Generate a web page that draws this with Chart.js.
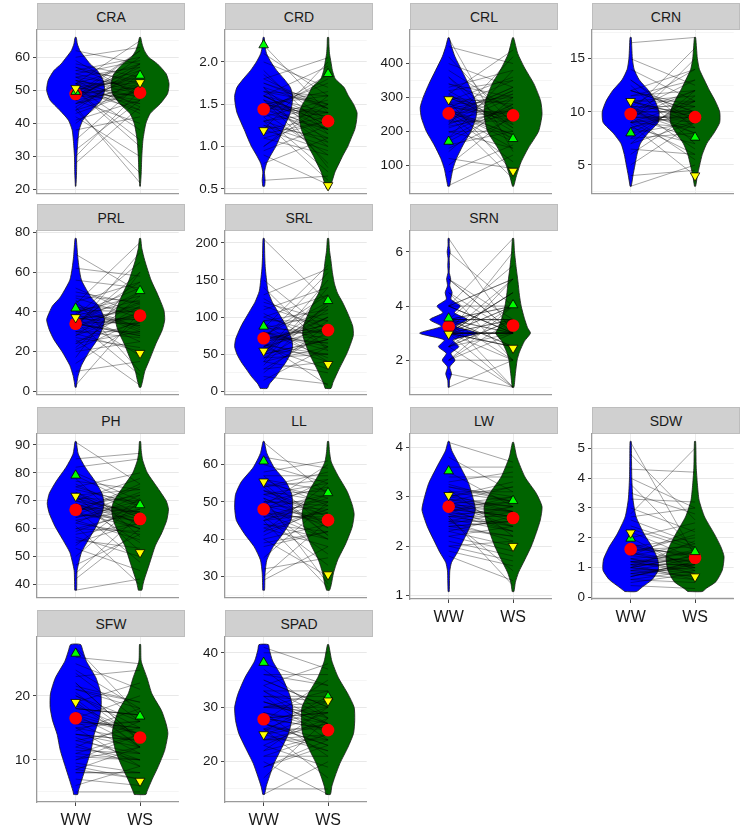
<!DOCTYPE html>
<html>
<head>
<meta charset="utf-8">
<script src="https://cdn.jsdelivr.net/npm/chart.js@4.4.1/dist/chart.umd.min.js"></script>
<style>
  body { margin: 0; background: #fff; }
  #wrap { position: relative; width: 743px; height: 831px; overflow: hidden; font-family: 'Liberation Sans', Arial, sans-serif; }
  .strip { position: absolute; background: #d0d0d0; border: 1px solid #bdbdbd; box-sizing: border-box;
           font-size: 14px; color: #1a1a1a; display: flex; align-items: center; justify-content: center; }
  canvas { position: absolute; }
</style>
</head>
<body>
<div id="wrap"></div>
<script>
const groups = ['WW', 'WS'];

// ---- CRA
const craTicks = ['20', '30', '40', '50', '60'];
const craRange = [18.75, 68.25];
const craWw = [[21,.01],[25,.03],[30,.04],[35,.08],[38,.12],[41,.25],[44,.55],[47,.88],[50,1],[53,.95],[56,.75],[58,.5],[60,.32],[62,.15],[64,.06],[66,.02]];
const craWs = [[21,.01],[25,.04],[30,.06],[35,.1],[40,.2],[43,.35],[46,.7],[49,.95],[52,1],[55,.9],[58,.6],[60,.3],[62,.15],[64,.07],[66,.02]];
const craMean = [48.9, 49.3];
const craUp = [49.6, 54.5];
const craDown = [50.6, 52.4];
const craPairWW = [28,30,32,35,38,40,42,44,45,46,47,48,48,49,50,50,51,52,52,53,54,55,56,57,58,59,60,62,44,47,
                   46,48,49,50,51,52,53,54,47,49,50,51,45,43,41,52,55,57,48,50,53,46,49,51,56,44,50,48,52,54];
const craPairWS = [45,50,47,52,42,55,30,58,22,50,40,53,62,46,56,35,48,52,65,44,57,50,60,49,54,48,63,58,25,51,
                   52,49,55,47,53,58,50,45,60,51,54,38,56,50,47,43,59,52,57,33,49,55,62,46,53,50,44,58,48,51];

// ---- CRD
const crdTicks = ['0.5', '1.0', '1.5', '2.0'];
const crdRange = [0.442, 2.378];
const crdWw = [[0.53,.03],[0.6,.05],[0.7,.03],[0.8,.1],[0.9,.25],[1.0,.42],[1.1,.55],[1.2,.67],[1.3,.8],[1.4,.92],[1.5,.98],[1.6,1],[1.7,.92],[1.8,.7],[1.9,.45],[2.0,.25],[2.1,.1],[2.2,.04],[2.29,.02]];
const crdWs = [[0.5,.05],[0.6,.15],[0.7,.24],[0.8,.38],[0.9,.52],[1.0,.68],[1.1,.8],[1.2,.92],[1.3,.98],[1.4,1],[1.5,.88],[1.6,.7],[1.7,.55],[1.8,.25],[1.9,.15],[2.0,.1],[2.1,.05],[2.2,.03],[2.29,.02]];
const crdMean = [1.44, 1.3];
const crdUp = [2.2, 1.86];
const crdDown = [1.19, 0.54];
const crdPairWW = [0.6,0.8,0.9,1.0,1.1,1.15,1.2,1.25,1.3,1.35,1.4,1.45,1.5,1.5,1.55,1.6,1.6,1.65,1.7,1.75,1.8,1.85,1.9,2.0,2.1,2.2,1.3,1.45,
                   1.2,1.3,1.4,1.5,1.55,1.6,1.65,1.7,1.4,1.5,1.35,1.25,1.45,1.55,1.6,1.7,1.8,1.1,1.0,0.95,1.5,1.6,1.4,1.3,1.65,1.75,1.2,1.45,1.55,1.5];
const crdPairWS = [0.65,1.1,0.55,1.5,0.9,1.3,2.0,1.0,1.4,0.7,1.8,1.2,1.6,1.35,0.8,1.95,1.25,1.5,1.05,1.45,2.05,1.3,1.15,1.7,1.6,1.4,0.6,1.1,
                   1.35,1.5,1.2,1.4,1.0,1.25,1.6,1.45,0.9,1.3,1.55,1.1,1.75,1.35,1.2,0.75,1.45,1.3,1.6,1.25,1.15,1.4,1.85,1.05,1.3,1.5,0.95,1.4,1.2,1.65];

// ---- CRL
const crlTicks = ['100', '200', '300', '400'];
const crlRange = [16, 499];
const crlWw = [[38,.03],[60,.08],[90,.15],[120,.27],[160,.5],[200,.77],[240,.94],[270,.98],[300,.88],[340,.68],[380,.45],[420,.22],[450,.1],[476,.02]];
const crlWs = [[38,.02],[70,.12],[110,.28],[150,.52],[200,.88],[250,1],[290,.95],[340,.72],[390,.38],[430,.16],[476,.02]];
const crlMean = [253, 247];
const crlUp = [170, 178];
const crlDown = [294, 83];
const crlPairWW = [40,80,100,120,140,160,180,200,210,220,230,240,250,255,260,270,280,290,300,310,320,340,360,380,400,420,450,475,245,265,
                   150,180,200,220,240,250,260,270,280,300,320,340,230,255,275,290,310,195,215,235,265,285,305,330,360,170,245,260,225,300];
const crlPairWS = [130,160,250,90,300,200,380,150,270,420,230,320,110,260,190,350,240,80,280,440,210,300,170,260,330,220,400,140,60,310,
                   240,280,200,300,260,330,180,250,290,220,350,270,310,150,230,360,200,280,250,320,190,300,240,380,210,270,330,170,260,230];

// ---- CRN
const crnTicks = ['5', '10', '15'];
const crnRange = [2.3, 17.7];
const crnWw = [[3,.02],[4,.08],[5,.15],[6,.22],[7,.33],[8,.6],[9,.95],[10,.98],[11,.85],[12,.62],[13,.3],[14,.12],[15,.06],[16,.04],[17,.02]];
const crnWs = [[3,.02],[4,.08],[5,.16],[6,.25],[7,.4],[8,.65],[9,.85],[10,.85],[11,.7],[12,.5],[13,.32],[14,.15],[15,.08],[16,.05],[17,.02]];
const crnMean = [9.8, 9.5];
const crnUp = [8.0, 7.6];
const crnDown = [11.0, 4.0];
const crnPairWW = [3,4,5,6,6.5,7,7.5,8,8.5,9,9,9.5,9.5,10,10,10,10.5,10.5,11,11,11.5,12,12,13,14,15,16.5,8.8,
                   8,8.5,9,9,9.5,9.5,10,10,10,10.5,10.5,11,11,11.5,12,12.5,7,7.5,9,10,9.5,10,11,8.5,10,9.5,10.5,12,13,9];
const crnPairWS = [5,4.5,9,10,6,12,8,11,7,10,15,9.5,5.5,13,8.5,16,10,6.5,11.5,9,12,10.5,14,9,11,12.5,17,4,
                   9,10,8.5,11,9.5,7.5,10,12,9,10.5,8,11,9.5,13,10,7,9,11.5,6,10,12,8,9.5,10.5,11,9,14,10,8.5,9.5];

// ---- PRL
const prlTicks = ['0', '20', '40', '60', '80'];
const prlRange = [-1.75, 80.75];
const prlWw = [[2,.02],[5,.05],[8,.09],[13,.2],[20,.47],[26,.75],[31,.91],[36,1],[40,.9],[43,.8],[47,.55],[50,.42],[56,.2],[62,.12],[68,.07],[77,.02]];
const prlWs = [[2,.03],[6,.1],[10,.16],[16,.33],[24,.55],[31,.77],[36,.85],[41,.82],[49,.6],[56,.38],[66,.16],[72,.06],[77,.02]];
const prlMean = [34, 38.1];
const prlUp = [41.8, 50.6];
const prlDown = [37.2, 19.2];
const prlPairWW = [3,10,14,17,20,22,24,26,28,29,30,32,33,34,35,36,37,38,40,42,44,46,48,52,56,62,69,35,
                   25,28,30,32,33,34,35,36,37,38,39,40,41,43,45,47,50,27,31,35,38,42,36,33,30,24,21,44,39,34];
const prlPairWS = [40,15,35,60,25,48,30,3,50,20,38,70,44,28,55,36,18,65,33,42,75,10,45,38,52,58,50,8,
                   35,40,30,45,38,28,50,42,33,36,25,48,40,31,55,37,44,22,39,34,46,30,41,60,27,43,36,32,52,29];

// ---- SRL
const srlTicks = ['0', '50', '100', '150', '200'];
const srlRange = [-4.5, 216];
const srlWw = [[4,.12],[10,.2],[20,.42],[30,.6],[40,.78],[50,.92],[60,1],[70,.97],[80,.87],[90,.75],[100,.6],[110,.45],[120,.3],[135,.15],[150,.1],[165,.06],[180,.04],[206,.02]];
const srlWs = [[4,.1],[12,.17],[30,.38],[52,.66],[75,.87],[88,.85],[105,.68],[120,.5],[132,.33],[145,.22],[160,.15],[176,.1],[190,.05],[206,.02]];
const srlMean = [71.5, 82.5];
const srlUp = [87.5, 122];
const srlDown = [54.5, 36.5];
const srlPairWW = [15,20,25,30,35,40,45,50,55,60,65,70,75,80,85,90,95,100,110,120,130,140,150,205,60,70,80,50,
                   30,40,45,50,55,60,62,65,68,70,72,75,78,80,85,90,95,100,105,115,125,55,65,70,60,50,75,85,45,40];
const srlPairWS = [60,10,90,40,120,25,70,150,50,100,8,85,130,60,170,40,110,75,140,95,165,55,80,120,30,160,45,115,
                   80,60,95,70,110,85,50,100,75,90,65,120,80,55,105,70,95,130,60,85,75,100,40,90,115,70,65,80,50,140];

// ---- SRN
const srnTicks = ['2', '4', '6'];
const srnRange = [0.725, 6.775];
const srnWw = [[1,.02],[1.25,.03],[1.5,.1],[1.75,.04],[2,.22],[2.25,.08],[2.5,.35],[2.75,.15],[3,1],[3.25,.25],[3.5,.65],[3.75,.2],[4,.4],[4.25,.08],[4.5,.12],[4.75,.04],[5,.07],[5.25,.02],[5.5,.03],[5.75,.02],[6,.05],[6.25,.02],[6.5,.02]];
const srnWs = [[1,.03],[1.5,.08],[2,.14],[2.3,.22],[2.7,.39],[3.0,.6],[3.2,.5],[3.55,.39],[4,.28],[4.4,.22],[4.9,.17],[5.4,.11],[6,.05],[6.5,.02]];
const srnMean = [3.25, 3.28];
const srnUp = [3.55, 4.04];
const srnDown = [2.97, 2.45];
const srnPairWW = [1,1.5,2,2,2.5,2.5,3,3,3,3,3,3,3,3.5,3.5,3.5,3.5,4,4,4,4.5,5,5,6,6.5,3,2.5,3.5,
                   3,3,3,3.5,3.5,4,2.5,3,3,3.5,4,2,3,3.5,4.5,3,3,2.5,3.5,4,3,3,5,3.5,2,3,4,3,2.5,3.5];
const srnPairWS = [2,1,3,4,1,5,2.5,3,4.5,6,1,3.5,2,3,4,5.5,2.5,3,6.5,4,2,3,3.5,4,3,5,3.5,1,
                   3,3.5,4,3,2.5,3,3.5,4.5,3,2,5,3.5,3,4,3,2.5,3,4,3.5,3,2.5,4.5,3,3.5,2,3,5,4,3,3.5];

// ---- PH
const phTicks = ['40', '50', '60', '70', '80', '90'];
const phRange = [35.3, 93.9];
const phWw = [[38,.03],[42,.04],[45,.05],[48,.11],[51.5,.2],[56,.44],[61,.72],[65.5,.91],[69,.98],[72.6,.91],[77,.67],[82,.33],[86.7,.09],[91.2,.02]];
const phWs = [[38,.06],[40,.1],[42,.15],[47,.31],[54,.53],[58.5,.75],[63,.92],[67,.98],[70,.9],[75,.58],[80,.25],[84.5,.09],[88,.04],[91.2,.02]];
const phMean = [66.8, 63.5];
const phUp = [79.1, 68.5];
const phDown = [71.7, 51.5];
const phPairWW = [38,42,44,47,50,53,55,57,59,61,62,63,64,65,66,67,68,69,70,71,72,73,75,77,79,82,85,91,
                  58,60,62,64,65,66,67,68,69,70,71,72,73,74,76,78,80,63,66,69,72,60,56,54,67,70,65,75,68,71];
const phPairWS = [42,60,65,58,70,45,62,50,67,40,72,56,68,63,75,48,66,60,78,70,52,64,80,74,68,85,87,76,
                  62,66,58,70,64,60,68,72,55,66,63,74,61,69,65,57,70,67,76,62,64,59,53,71,66,62,73,68,60,65];

// ---- LL
const llTicks = ['30', '40', '50', '60'];
const llRange = [24.3, 68.2];
const llWw = [[26.3,.03],[29,.04],[31,.05],[34.4,.11],[38,.33],[41.4,.66],[45,.94],[48.4,1],[52,.97],[55.4,.77],[59,.38],[61.5,.2],[63.3,.1],[66.2,.02]];
const llWs = [[26.3,.05],[27.8,.11],[31,.19],[34.4,.33],[38.8,.61],[43.2,.83],[46.7,.9],[49.3,.83],[52.8,.66],[57.2,.33],[60.7,.11],[63.5,.05],[66.2,.02]];
const llMean = [48, 45.1];
const llUp = [60.9, 52.4];
const llDown = [55.4, 30.5];
const llPairWW = [29,30,32,35,38,40,42,43,44,45,46,47,48,48,49,50,51,52,53,54,55,56,57,58,60,62,66,45,
                  40,42,44,45,46,47,48,49,50,51,52,53,54,55,56,43,47,49,51,53,45,48,50,52,41,57,46,49,54,39];
const llPairWS = [38,45,35,50,42,30,55,48,40,52,33,47,56,44,60,50,28,53,46,58,41,49,57,61,55,59,52,27,
                  44,48,42,50,46,40,52,45,49,43,55,47,41,51,53,38,45,48,44,50,47,36,54,46,49,43,51,40,56,42];

// ---- LW
const lwTicks = ['1', '2', '3', '4'];
const lwRange = [0.93, 4.27];
const lwWw = [[1.08,.02],[1.3,.03],[1.5,.04],[1.67,.1],[1.87,.3],[2.13,.52],[2.4,.74],[2.73,.92],[2.93,.86],[3.27,.69],[3.6,.41],[3.93,.11],[4.12,.02]];
const lwWs = [[1.08,.03],[1.27,.08],[1.47,.19],[1.73,.41],[2.0,.63],[2.27,.8],[2.53,.94],[2.8,1],[3.07,.8],[3.4,.41],[3.8,.13],[4.1,.02]];
const lwMean = [2.8, 2.57];
const lwUp = [3.52, 2.92];
const lwDown = [3.03, 2.0];
const lwPairWW = [1.8,1.9,2.0,2.1,2.2,2.3,2.4,2.45,2.5,2.55,2.6,2.65,2.7,2.75,2.8,2.85,2.9,2.95,3.0,3.1,3.2,3.3,3.4,3.5,3.6,3.8,4.1,2.6,
                  2.3,2.4,2.5,2.6,2.65,2.7,2.75,2.8,2.85,2.9,3.0,3.05,3.1,3.15,3.2,2.5,2.6,2.7,2.8,2.9,3.0,2.2,2.4,2.55,2.75,2.95,3.25,2.0,2.35,2.85];
const lwPairWS = [1.3,1.6,2.1,1.8,2.4,2.0,2.2,2.7,2.5,1.5,2.8,2.3,3.0,2.6,2.9,2.4,3.2,2.7,3.3,2.9,3.0,3.5,3.4,2.8,3.6,3.1,3.7,1.2,
                  2.6,2.5,2.8,2.4,2.7,2.9,2.3,2.6,3.0,2.5,2.8,2.7,3.1,2.2,2.9,2.1,2.6,2.4,2.7,2.8,3.2,1.9,2.5,2.3,2.6,2.8,2.9,1.7,2.2,2.7];

// ---- SDW
const sdwTicks = ['0', '1', '2', '3', '4', '5'];
const sdwRange = [-0.05, 5.48];
const sdwWw = [[0.2,.2],[0.35,.4],[0.6,.74],[0.9,.95],[1.1,.96],[1.3,.93],[1.7,.74],[2.1,.48],[2.7,.19],[3.3,.08],[4,.04],[4.6,.03],[5.23,.02]];
const sdwWs = [[0.2,.25],[0.31,.39],[0.53,.72],[0.92,.94],[1.37,1],[1.7,.89],[2.14,.66],[2.7,.33],[3.26,.14],[3.81,.08],[4.37,.04],[5.23,.02]];
const sdwMean = [1.62, 1.33];
const sdwUp = [1.98, 1.53];
const sdwDown = [2.17, 0.7];
const sdwPairWW = [0.4,0.5,0.6,0.7,0.8,0.9,1.0,1.0,1.1,1.1,1.2,1.2,1.3,1.4,1.5,1.6,1.7,1.8,2.0,2.2,2.4,2.7,3.0,3.3,3.8,4.3,5.2,2.8,
                   0.6,0.7,0.8,0.9,1.0,1.1,1.2,1.3,1.4,1.5,1.6,1.8,2.0,2.3,0.8,1.0,1.2,1.1,0.9,1.3,1.5,1.7,1.0,0.7,1.2,1.4,2.6,3.5,4.0,4.8];
const sdwPairWS = [0.3,0.8,0.5,1.2,0.6,1.0,1.4,0.7,1.1,1.6,0.9,1.3,0.8,1.8,1.2,1.5,2.0,1.0,2.5,1.3,1.7,3.0,2.2,3.2,1.6,4.2,1.4,5.0,
                   0.9,1.2,1.0,0.7,1.4,1.1,0.8,1.5,1.2,1.0,1.7,1.3,0.9,1.6,1.1,1.9,1.2,0.6,1.3,1.0,2.1,1.4,0.8,1.1,1.5,2.3,1.8,2.8,3.0,2.6];

// ---- SFW
const sfwTicks = ['10', '20'];
const sfwRange = [3.43, 29.17];
const sfwWw = [[4.6,.07],[5.1,.09],[7,.22],[9,.36],[11.5,.53],[14,.64],[16.2,.8],[18.2,.88],[20.3,.87],[22.8,.7],[25.4,.37],[27,.25],[28,.17]];
const sfwWs = [[4.6,.2],[5.1,.24],[6.9,.41],[9,.63],[11.5,.85],[14.1,.96],[15.6,.9],[17.7,.74],[20.3,.41],[22.8,.24],[25.4,.04],[28,.02]];
const sfwMean = [16.5, 13.5];
const sfwUp = [26.6, 16.8];
const sfwDown = [19.0, 6.7];
const sfwPairWW = [5,6,7,8,8.5,9,10,11,12,13,14,14.5,15,16,16.5,17,18,18.5,19,20,21,22,23,24,25,26,27.5,8,
                   10,11,12,13,14,15,16,17,18,19,20,21,22,12.5,15.5,17.5,19.5,13.5,16,18,20.5,9.5,11.5,14,16.5,21.5,23.5,8.5,10.5,15];
const sfwPairWS = [5,9,6,8,12,7,14,10,16,11,13,18,9,15,20,12,17,14,22,16,19,13,24,18,21,25,17,8,
                   12,14,10,15,13,16,11,14,17,12,15,18,13,9,16,14,12,10,15,17,13,8,11,12,14,19,16,7,10,13];

// ---- SPAD
const spadTicks = ['20', '30', '40'];
const spadRange = [12.6, 42.9];
const spadWw = [[14,.03],[15.5,.09],[17.3,.2],[19.7,.36],[22.7,.64],[25.2,.86],[27.6,.97],[30,1],[32.4,.89],[35.5,.64],[38.5,.31],[40.5,.2],[41.5,.16]];
const spadWs = [[14,.08],[15.5,.13],[17.3,.24],[19.7,.41],[22.7,.69],[25.2,.88],[27.6,.92],[30,.9],[32.4,.69],[35.5,.35],[38.5,.13],[41.5,.02]];
const spadMean = [27.8, 25.8];
const spadUp = [38.2, 31.9];
const spadDown = [25.0, 31.2];
const spadPairWW = [14,15,17,19,20,21,22,23,24,25,25.5,26,27,27.5,28,29,30,31,32,33,34,35,36,37,38,40,41,26,
                    22,23,24,25,26,27,28,29,30,31,32,33,34,35,26,28,30,32,24,27,29,31,21,19,36,25,28,30,33,27];
const spadPairWS = [20,15,28,23,14,25,30,19,27,22,32,26,24,35,29,21,33,27,31,25,38,30,36,28,34,40,37,17,
                    25,28,24,27,30,23,29,26,31,27,24,33,28,30,22,26,29,32,25,31,27,28,21,24,34,29,26,30,27,23];

const panels = [
  { name: 'CRA', ticks: craTicks, range: craRange, ww: craWw, ws: craWs, mean: craMean, up: craUp, down: craDown, pw: craPairWW, ps: craPairWS },
  { name: 'CRD', ticks: crdTicks, range: crdRange, ww: crdWw, ws: crdWs, mean: crdMean, up: crdUp, down: crdDown, pw: crdPairWW, ps: crdPairWS },
  { name: 'CRL', ticks: crlTicks, range: crlRange, ww: crlWw, ws: crlWs, mean: crlMean, up: crlUp, down: crlDown, pw: crlPairWW, ps: crlPairWS },
  { name: 'CRN', ticks: crnTicks, range: crnRange, ww: crnWw, ws: crnWs, mean: crnMean, up: crnUp, down: crnDown, pw: crnPairWW, ps: crnPairWS },
  { name: 'PRL', ticks: prlTicks, range: prlRange, ww: prlWw, ws: prlWs, mean: prlMean, up: prlUp, down: prlDown, pw: prlPairWW, ps: prlPairWS },
  { name: 'SRL', ticks: srlTicks, range: srlRange, ww: srlWw, ws: srlWs, mean: srlMean, up: srlUp, down: srlDown, pw: srlPairWW, ps: srlPairWS },
  { name: 'SRN', ticks: srnTicks, range: srnRange, ww: srnWw, ws: srnWs, mean: srnMean, up: srnUp, down: srnDown, pw: srnPairWW, ps: srnPairWS },
  { name: 'PH', ticks: phTicks, range: phRange, ww: phWw, ws: phWs, mean: phMean, up: phUp, down: phDown, pw: phPairWW, ps: phPairWS },
  { name: 'LL', ticks: llTicks, range: llRange, ww: llWw, ws: llWs, mean: llMean, up: llUp, down: llDown, pw: llPairWW, ps: llPairWS },
  { name: 'LW', ticks: lwTicks, range: lwRange, ww: lwWw, ws: lwWs, mean: lwMean, up: lwUp, down: lwDown, pw: lwPairWW, ps: lwPairWS },
  { name: 'SDW', ticks: sdwTicks, range: sdwRange, ww: sdwWw, ws: sdwWs, mean: sdwMean, up: sdwUp, down: sdwDown, pw: sdwPairWW, ps: sdwPairWS },
  { name: 'SFW', ticks: sfwTicks, range: sfwRange, ww: sfwWw, ws: sfwWs, mean: sfwMean, up: sfwUp, down: sfwDown, pw: sfwPairWW, ps: sfwPairWS },
  { name: 'SPAD', ticks: spadTicks, range: spadRange, ww: spadWw, ws: spadWs, mean: spadMean, up: spadUp, down: spadDown, pw: spadPairWW, ps: spadPairWS }
];

// page layout (grid slots), not data
const slots = { CRA: [0, 0], CRD: [0, 1], CRL: [0, 2], CRN: [0, 3], PRL: [1, 0], SRL: [1, 1], SRN: [1, 2],
                PH: [2, 0], LL: [2, 1], LW: [2, 2], SDW: [2, 3], SFW: [3, 0], SPAD: [3, 1] };
const withXLabels = ['LW', 'SDW', 'SFW', 'SPAD'];
const colLeft = [37, 225, 410, 592];
const rowTop = [3, 204, 407, 610];
const PANEL_W = 148, STRIP_H = 27, PLOT_H = 165, AXIS_W = 40, TOP_PAD = 10;
const HALF = 0.45;

Chart.defaults.font.family = "'Liberation Sans', Arial, sans-serif";
Chart.defaults.color = '#1a1a1a';

function violin(shape, center) {
  const left = shape.map(p => ({ x: center - HALF * p[1], y: p[0] }));
  const right = shape.slice().reverse().map(p => ({ x: center + HALF * p[1], y: p[0] }));
  return left.concat(right, [left[0]]);
}

function pairLines(ww, ws) {
  const pts = [];
  const n = Math.min(ww.length, ws.length);
  for (let i = 0; i < n; i++) {
    pts.push({ x: 1, y: ww[i] }, { x: 2, y: ws[i] }, { x: 1.5, y: null });
  }
  return pts;
}

function yTicks(labels, min, max) {
  const vals = labels.map(Number);
  const step = vals.length > 1 ? vals[1] - vals[0] : 1;
  const out = [];
  if (vals[0] - step / 2 >= min) out.push({ value: vals[0] - step / 2, minor: true });
  vals.forEach((v, i) => {
    out.push({ value: v, minor: false, text: labels[i] });
    if (v + step / 2 <= max) out.push({ value: v + step / 2, minor: true });
  });
  return out;
}

const wrap = document.getElementById('wrap');

panels.forEach(p => {
  const [r, c] = slots[p.name];
  const left = colLeft[c];
  const stripTop = rowTop[r];
  const plotTop = stripTop + STRIP_H;
  const labelled = withXLabels.includes(p.name);
  const xh = labelled ? 32 : 3;

  const strip = document.createElement('div');
  strip.className = 'strip';
  strip.style.left = left + 'px';
  strip.style.top = stripTop + 'px';
  strip.style.width = PANEL_W + 'px';
  strip.style.height = STRIP_H + 'px';
  strip.textContent = p.name;
  wrap.appendChild(strip);

  const cv = document.createElement('canvas');
  const w = PANEL_W + AXIS_W, h = TOP_PAD + PLOT_H + xh + 2;
  cv.width = w; cv.height = h;
  cv.style.left = (left - AXIS_W) + 'px';
  cv.style.top = (plotTop - TOP_PAD) + 'px';
  cv.style.width = w + 'px'; cv.style.height = h + 'px';
  wrap.appendChild(cv);

  const yt = yTicks(p.ticks, p.range[0], p.range[1]);

  new Chart(cv.getContext('2d'), {
    type: 'scatter',
    data: {
      datasets: [
        { data: violin(p.ww, 1), showLine: true, fill: 'shape', backgroundColor: '#0000ff', borderColor: '#1a1a1a',
          borderWidth: 0.8, pointRadius: 0, tension: 0.2, order: 6 },
        { data: violin(p.ws, 2), showLine: true, fill: 'shape', backgroundColor: '#006400', borderColor: '#1a1a1a',
          borderWidth: 0.8, pointRadius: 0, tension: 0.2, order: 5 },
        { data: pairLines(p.pw, p.ps), showLine: true, spanGaps: false, borderColor: 'rgba(0,0,0,0.45)',
          borderWidth: 0.8, pointRadius: 0, order: 4 },
        { data: groups.map((g, i) => ({ x: i + 1, y: p.mean[i] })), pointStyle: 'circle', pointRadius: 6.3,
          backgroundColor: '#ff0000', borderWidth: 0, order: 3 },
        { data: groups.map((g, i) => ({ x: i + 1, y: p.up[i] })), pointStyle: 'triangle', pointRadius: 5.5,
          backgroundColor: '#00ff00', borderColor: '#000', borderWidth: 0.8, order: 2 },
        { data: groups.map((g, i) => ({ x: i + 1, y: p.down[i] })), pointStyle: 'triangle', rotation: 180, pointRadius: 5.5,
          backgroundColor: '#ffff00', borderColor: '#000', borderWidth: 0.8, order: 1 }
      ]
    },
    options: {
      responsive: false,
      animation: false,
      events: [],
      layout: { padding: { top: TOP_PAD, bottom: 2, left: 0, right: 0 } },
      plugins: { legend: { display: false }, tooltip: { enabled: false } },
      scales: {
        x: {
          type: 'linear', min: 0.4, max: 2.6,
          afterBuildTicks: s => { s.ticks = [{ value: 1 }, { value: 2 }]; },
          afterFit: s => { s.height = xh; s.paddingLeft = 0; s.paddingRight = 0; },
          ticks: { display: labelled, callback: (v, i) => groups[i], font: { size: 16 }, color: '#1a1a1a', padding: 5 },
          grid: { color: '#ececec', lineWidth: 1, drawTicks: labelled, tickLength: 4, tickColor: '#444' },
          border: { display: true, color: '#9a9a9a', width: 1.3 }
        },
        y: {
          type: 'linear', min: p.range[0], max: p.range[1],
          afterBuildTicks: s => { s.ticks = yt.map(t => Object.assign({}, t)); },
          afterFit: s => { s.width = AXIS_W; s.paddingTop = 0; s.paddingBottom = 0; },
          ticks: {
            callback: (v, i, ticks) => ticks[i].text || '',
            font: { size: 13.5 }, color: '#1a1a1a', padding: 3, autoSkip: false
          },
          grid: {
            color: ctx => (ctx.tick && ctx.tick.minor) ? '#f5f5f5' : '#e8e8e8',
            lineWidth: 1, tickLength: 4,
            tickColor: ctx => (ctx.tick && ctx.tick.minor) ? 'rgba(0,0,0,0)' : '#444'
          },
          border: { display: true, color: '#9a9a9a', width: 1.3 }
        }
      }
    }
  });
});
</script>
</body>
</html>
